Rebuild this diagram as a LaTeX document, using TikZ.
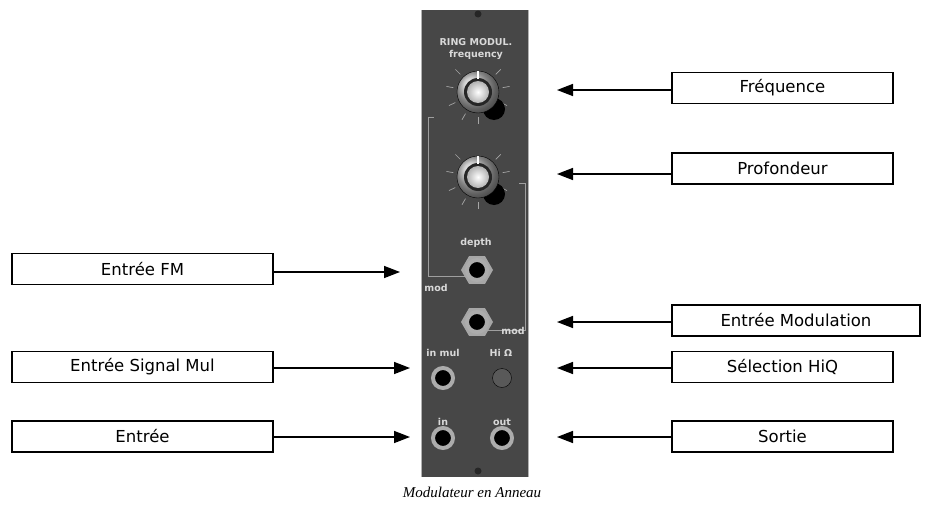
\documentclass[tikz,border=0pt]{standalone}
\usepackage{fontspec}
\setmainfont{Liberation Serif}
\newfontfamily\lab{DejaVu Sans}
\usetikzlibrary{arrows.meta,shapes.geometric}
\begin{document}
\begin{tikzpicture}[x=1pt,y=-1pt,
  lbox/.style={draw,line width=1.2pt,minimum height=31pt,font=\lab\fontsize{16.5}{18}\selectfont,inner sep=0pt},
  arr/.style={-{Triangle[length=16pt,width=12pt]},line width=1.5pt},
  ptxt/.style={text=white!85!black,font=\lab\bfseries\fontsize{9.5}{10}\selectfont,inner sep=0pt},
  jack/.style={circle,draw=gray!65,line width=4pt,fill=black,minimum size=20pt,inner sep=0pt}]
\useasboundingbox (0,0) rectangle (943,506);
% panel
\fill[black!72] (421,10) rectangle (528,477);
\draw[gray!60,line width=0.6pt] (421,10) -- (421,477) (528,10)--(528,477);
\node[circle,fill=black!85,minimum size=7pt,inner sep=0pt] (s1) at (478,14) {};
\node[circle,fill=black!85,minimum size=7pt,inner sep=0pt] (s2) at (478,471) {};
\node[ptxt] (t1) at (476,42) {RING MODUL.};
\node[ptxt] (t2) at (476,55) {frequency};
\foreach \cy in {92,177}{
  \foreach \a in {-45,-10,25,60,90,120,155,190,225}
    \draw[gray!70,line width=0.7pt] (478,\cy) ++(\a:-25pt) -- ++(\a:-7pt);
  \fill[black] (494,\cy+17) circle (11pt);
  \shade[ball color=gray!50,draw=black] (478,\cy) circle (21pt);
  \fill[black!85] (478,\cy) circle (14pt);
  \shade[inner color=white,outer color=gray!60] (478,\cy) circle (11pt);
  \draw[white,line width=1.2pt] (478,\cy-21) -- (478,\cy-13);
}
\node[ptxt] (t3) at (476,243) {depth};
\draw[gray!75,line width=1pt] (470,276) -| (428,117) -- (434,117);
\draw[gray!75,line width=1pt] (485,330) -| (525,183) -- (519,183);
\node[regular polygon,regular polygon sides=6,fill=gray!70,minimum size=32pt,inner sep=0pt] (h1) at (477,270) {};
\node[regular polygon,regular polygon sides=6,fill=gray!70,minimum size=32pt,inner sep=0pt] (h2) at (477,322) {};
\node[jack] (j1) at (477,270) {};
\node[jack] (j2) at (477,322) {};
\node[ptxt] at (436,288) {mod};
\node[ptxt] at (513,331) {mod};
\node[ptxt] at (443,353) {in mul};
\node[ptxt] at (501,353) {Hi \char"03A9};
\node[jack] (j3) at (443,378) {};
\node[circle,fill=gray!70!black,draw=black,minimum size=19pt,inner sep=0pt] (b1) at (502,378) {};
\node[ptxt] at (443,422) {in};
\node[ptxt] at (502,422) {out};
\node[jack] (j4) at (443,438) {};
\node[jack] (j5) at (502,438) {};
% labels
\node[lbox,minimum width=221pt] (fr) at (782.5,88) {Fréquence};
\node[lbox,minimum width=221pt] (pr) at (782.5,168.5) {Profondeur};
\node[lbox,minimum width=261pt] (fm) at (142.5,269) {Entrée FM};
\node[lbox,minimum width=248pt] (em) at (796,320.5) {Entrée Modulation};
\node[lbox,minimum width=261pt] (sm) at (142.5,367) {Entrée Signal Mul};
\node[lbox,minimum width=221pt] (hq) at (782.5,367) {Sélection HiQ};
\node[lbox,minimum width=261pt] (en) at (142.5,436.5) {Entrée};
\node[lbox,minimum width=221pt] (so) at (782.5,436.5) {Sortie};
\coordinate (c1) at (557,90);
\coordinate (c2) at (557,174);
\coordinate (c3) at (400,272);
\coordinate (c4) at (557,322);
\coordinate (c5) at (410,368);
\coordinate (c6) at (557,368);
\coordinate (c7) at (410,437);
\coordinate (c8) at (557,437);
\draw[arr] (fr.west |- c1) -- (c1);
\draw[arr] (pr.west |- c2) -- (c2);
\draw[arr] (fm.east |- c3) -- (c3);
\draw[arr] (em.west |- c4) -- (c4);
\draw[arr] (sm.east |- c5) -- (c5);
\draw[arr] (hq.west |- c6) -- (c6);
\draw[arr] (en.east |- c7) -- (c7);
\draw[arr] (so.west |- c8) -- (c8);
\node[font=\itshape\fontsize{15}{17}\selectfont] (cap) at (472,492) {Modulateur en Anneau};
\end{tikzpicture}
\end{document}
